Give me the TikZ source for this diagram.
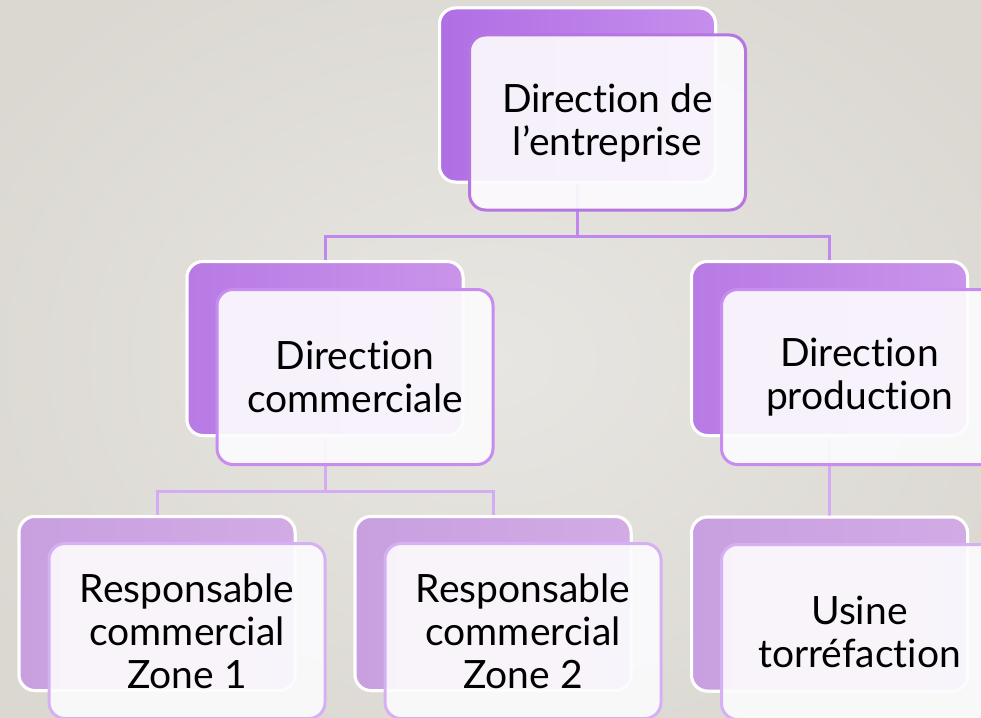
\documentclass[tikz,border=0pt]{standalone}
\usepackage{fontspec}
\setmainfont[Ligatures={NoCommon,NoContextual}]{Lato}
\usetikzlibrary{calc}
\newcommand\myti{t\kern0pt i}
\definecolor{bgin}{RGB}{232,230,226}
\definecolor{bgout}{RGB}{219,216,210}
\definecolor{p1l}{RGB}{176,110,228}
\definecolor{p1r}{RGB}{198,142,236}
\definecolor{p2l}{RGB}{184,122,228}
\definecolor{p2r}{RGB}{202,148,234}
\definecolor{p3l}{RGB}{200,160,224}
\definecolor{p3r}{RGB}{210,170,228}
\definecolor{brd1}{RGB}{182,118,226}
\definecolor{brd2}{RGB}{198,140,240}
\definecolor{brd3}{RGB}{214,176,244}
\definecolor{con1}{RGB}{190,136,238}
\definecolor{con2}{RGB}{212,172,242}
\definecolor{frontfill}{RGB}{252,251,253}
\tikzset{
  back/.style={rectangle, rounded corners=16pt, minimum width=276pt, minimum height=174pt, draw=white, line width=3pt, inner sep=0pt},
  front/.style={rectangle, rounded corners=16pt, minimum width=276pt, minimum height=175pt, fill=frontfill, fill opacity=0.92, text opacity=1, line width=3pt, align=center, inner sep=0pt, font=\fontsize{39}{43}\selectfont},
  lvA/.style={left color=p1l, right color=p1r},
  lvB/.style={left color=p2l, right color=p2r},
  lvC/.style={left color=p3l, right color=p3r},
  conA/.style={draw=con1, line width=3pt},
  conB/.style={draw=con2, line width=3pt},
}
\begin{document}
\begin{tikzpicture}[x=1pt,y=-1pt]
\useasboundingbox (0,0) rectangle (981,717);
\clip (0,0) rectangle (981,717);
\shade[inner color=bgin, outer color=bgout] (-100,-100) rectangle (1081,817);
% back boxes
\node[back,lvA] (b1) at (577.5,95) {};
\node[back,lvB] (b2a) at (325,348.5) {};
\node[back,lvB] (b2b) at (829.5,348.5) {};
\node[back,lvC] (b3a) at (157,603.5) {};
\node[back,lvC] (b3b) at (493,603.5) {};
\node[back,lvC] (b3c) at (829.5,604) {};
% elbow levels
\coordinate (m1) at (577.5,236.5);
\coordinate (m2) at (325,491);
% connectors
\draw[conA] (b1.south) -- (b1.south |- m1) -| (b2a.north);
\draw[conA] (b1.south |- m1) -| (b2b.north);
\draw[conB] (b2a.south) -- (b2a.south |- m2) -| (b3a.north);
\draw[conB] (b2a.south |- m2) -| (b3b.north);
\draw[conB] (b2b.south) -- (b3c.north);
% back boxes redrawn above connectors
\node[back,lvA] at (b1) {};
\node[back,lvB] at (b2a) {};
\node[back,lvB] at (b2b) {};
\node[back,lvC] at (b3a) {};
\node[back,lvC] at (b3b) {};
\node[back,lvC] at (b3c) {};
% front boxes
\node[front,draw=brd1] (f1) at (607.5,122.5) {Direc\myti on de\\l’entreprise};
\node[front,draw=brd2] (f2a) at (355,377) {Direc\myti on\\commerciale};
\node[front,draw=brd2] (f2b) at (859.5,377) {Direc\myti on\\produc\myti on};
\node[front,draw=brd3] (f3a) at (187,631) {Responsable\\commercial\\Zone 1};
\node[front,draw=brd3] (f3b) at (523,631) {Responsable\\commercial\\Zone 2};
\node[front,draw=brd3] (f3c) at (859.5,632) {Usine\\torréfac\myti on};
\end{tikzpicture}
\end{document}
